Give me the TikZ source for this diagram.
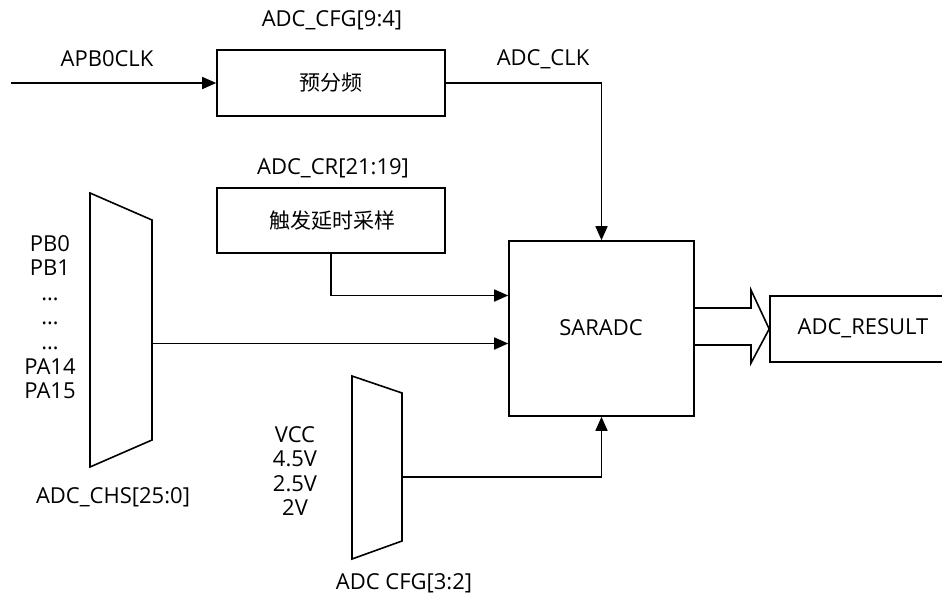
\documentclass[tikz,border=0pt]{standalone}
\usepackage{fontspec}
\setmainfont{Open Sans}
\newfontfamily\cjk{Noto Sans CJK SC}
\usetikzlibrary{arrows.meta}
\begin{document}
\begin{tikzpicture}[x=1pt,y=-1pt,
  line width=1.6pt,
  font=\fontsize{22}{24.6}\selectfont,
  lbl/.style={inner sep=0pt,align=center},
  arr/.style={-{Triangle[length=14pt,width=12pt]}},
  cn/.style={font=\cjk\fontsize{21}{24}\selectfont}]
\useasboundingbox (0,0) rectangle (942,600);
% boxes
\node[draw,minimum width=228pt,minimum height=66pt,inner sep=0pt] (pre) at (331,83) {};
\node[cn] (pretxt) at (331,83) {预分频};
\node[draw,minimum width=228pt,minimum height=65pt,inner sep=0pt] (trig) at (331,220.5) {};
\node[cn] (trigtxt) at (332,221) {触发延时采样};
\node[draw,minimum width=185pt,minimum height=175pt,inner sep=0pt] (sar) at (601.5,328.5) {};
\node[lbl] (sartxt) at (601,328) {SARADC};
\node[draw,minimum width=187pt,minimum height=66pt,inner sep=0pt] (res) at (863.5,329) {};
\node[lbl] (restxt) at (863,328) {ADC\_RESULT};
% muxes
\draw (90,193) -- (152,220) -- (152,440) -- (90,467) -- cycle;
\draw (352,376) -- (402,393) -- (402,541) -- (352,559) -- cycle;
\coordinate (m1out) at (152,343.5);
\coordinate (m2out) at (402,477);
% labels
\node[lbl] (apb) at (107,59) {APB0CLK};
\node[lbl] (cfg94) at (332,20) {ADC\_CFG[9:4]};
\node[lbl] (clk) at (543,59) {ADC\_CLK};
\node[lbl] (cr) at (333,168) {ADC\_CR[21:19]};
\node[lbl] (pins) at (50,317) {PB0\\PB1\\…\\…\\…\\PA14\\PA15};
\node[lbl] (chs) at (113,497) {ADC\_CHS[25:0]};
\node[lbl,font=\fontsize{22}{24.3}\selectfont] (volts) at (295,471) {VCC\\4.5V\\2.5V\\2V};
\node[lbl] (cfg32) at (404,583) {ADC CFG[3:2]};
% connectors
\coordinate (clkin) at (11,83);
\draw[arr] (clkin) -- (pre.west);
\draw[arr] (pre.east) -| (sar.north);
\coordinate (trigcorner) at (trig.south |- 0,295.5);
\draw[arr] (trig.south) -- (trigcorner) -- (sar.west |- trigcorner);
\draw[arr] (m1out) -- (sar.west |- m1out);
\draw[arr] (m2out) -| (sar.south);
% hollow bus arrow
\draw[line join=miter] (sar.east |- 0,308) -- (751,308) -- (751,290) -- (res.west) -- (751,363) -- (751,345) -- (sar.east |- 0,345);
\end{tikzpicture}
\end{document}
